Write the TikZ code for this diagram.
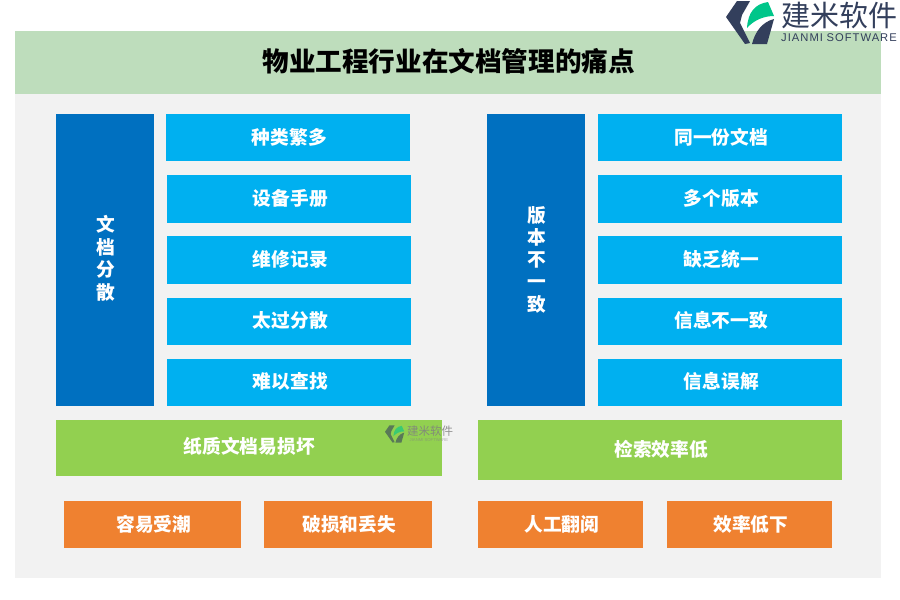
\documentclass[tikz,border=0pt]{standalone}
\usepackage{fontspec}
\setmainfont{Noto Sans CJK SC}
\newfontfamily\latinfont{Liberation Sans}
\definecolor{panel}{HTML}{F2F2F2}
\definecolor{headbar}{HTML}{BEDDBC}
\definecolor{darkblue}{HTML}{0070C0}
\definecolor{lightblue}{HTML}{00B0F0}
\definecolor{leaf}{HTML}{92D050}
\definecolor{orangefill}{HTML}{EF8130}
\definecolor{logonavy}{HTML}{333F5C}
\definecolor{logogreen}{HTML}{00C68A}
\tikzset{
  x=1pt,y=-1pt,
  boxbase/.style={anchor=center,inner sep=0pt,outer sep=0pt,text=white,xshift=1.3pt,yshift=0.4pt,font=\bfseries\fontsize{18.7}{22}\selectfont,align=center},
}
\newcommand{\pbox}[7]{% name, x0,y0,x1,y1, colour, text
  \fill[#6] (#2,#3) rectangle (#4,#5);
  \node[boxbase] (#1) at ({(#2+#4)/2},{(#3+#5)/2}) {#7};
}
\begin{document}
\begin{tikzpicture}
\useasboundingbox (0,0) rectangle (900,600);
\fill[white] (0,0) rectangle (900,600);
\fill[panel] (15,94) rectangle (881,578);
\fill[headbar] (15,31) rectangle (881,94);
\node[anchor=center,inner sep=0pt,font=\bfseries\fontsize{26.6}{30}\selectfont,text=black] (title) at (448.7,61) {物业工程行业在文档管理的痛点};
% left
\pbox{wd}{56}{116}{154}{406}{darkblue}{\begin{tabular}{@{}c@{}}文\\档\\分\\散\end{tabular}}
\fill[darkblue] (56,114) rectangle (154,117);
\pbox{a1}{166}{114}{410}{161}{lightblue}{种类繁多}
\pbox{a2}{167}{175}{411}{222}{lightblue}{设备手册}
\pbox{a3}{167}{236}{411}{283}{lightblue}{维修记录}
\pbox{a4}{167}{298}{411}{344}{lightblue}{太过分散}
\pbox{a5}{167}{359}{411}{405}{lightblue}{难以查找}
\fill[lightblue] (167,220) rectangle (411,223);
\fill[lightblue] (167,281) rectangle (411,284);
\fill[lightblue] (167,342) rectangle (411,345);
\fill[lightblue] (167,403) rectangle (411,406);
% right
\pbox{bb}{487}{119}{585}{406}{darkblue}{\begin{tabular}{@{}c@{}}版\\本\\不\\一\\致\end{tabular}}
\fill[darkblue] (487,114) rectangle (585,120);
\pbox{b1}{598}{114}{842}{161}{lightblue}{同一份文档}
\pbox{b2}{598}{175}{842}{222}{lightblue}{多个版本}
\pbox{b3}{598}{236}{842}{283}{lightblue}{缺乏统一}
\pbox{b4}{598}{298}{842}{344}{lightblue}{信息不一致}
\pbox{b5}{598}{359}{842}{405}{lightblue}{信息误解}
\fill[lightblue] (598,220) rectangle (842,223);
\fill[lightblue] (598,281) rectangle (842,284);
\fill[lightblue] (598,342) rectangle (842,345);
\fill[lightblue] (598,403) rectangle (842,406);
% green
\fill[leaf] (56,420) rectangle (442,476);
\node[boxbase] (g1) at (248,447) {纸质文档易损坏};
\pbox{g2}{478}{420}{842}{480}{leaf}{检索效率低}
% orange
\pbox{o1}{64}{501}{241}{548}{orangefill}{容易受潮}
\pbox{o2}{264}{501}{432}{548}{orangefill}{破损和丢失}
\pbox{o3}{478}{501}{643}{548}{orangefill}{人工翻阅}
\pbox{o4}{667}{501}{832}{548}{orangefill}{效率低下}
% watermark
\begin{scope}[opacity=0.6,shift={(385,425)},scale=0.4]
  \fill[logonavy] (11,1) -- (24,1) -- (16,15) -- (14,23) -- (24,43) -- (19,44) -- (0,17) -- cycle;
  \fill[logogreen] (21,28) .. controls (22,12) and (29,4) .. (42,2) -- (48,16) .. controls (38,16) and (28,20) .. (21,28) -- cycle;
  \fill[logonavy] (26,44) .. controls (29,32) and (36,22) .. (48,19) -- (41,44) -- cycle;
\end{scope}
\node[anchor=center,inner sep=0pt,text=gray,opacity=.85,font=\fontsize{11.5}{13}\selectfont] (wm1) at (430,431.5) {建米软件};
\node[anchor=center,inner sep=0pt,text=gray,opacity=.6,font=\latinfont\fontsize{4.2}{5}\selectfont] (wm2) at (429,440) {JIANMI SOFTWARE};
% logo
\fill[logonavy] (737,1) -- (750,1) -- (742,15) -- (740,23) -- (750,43) -- (745,44) -- (726,17) -- cycle;
\fill[logogreen] (747,28) .. controls (748,12) and (755,4) .. (768,2) -- (774,16) .. controls (764,16) and (754,20) .. (747,28) -- cycle;
\fill[logonavy] (752,44) .. controls (755,32) and (762,22) .. (774,19) -- (767,44) -- cycle;
\node[anchor=center,inner sep=0pt,text=logonavy,font=\fontsize{29}{32}\selectfont] (lg1) at (839.5,15) {建米软件};
\node[anchor=center,inner sep=0pt,text=logonavy,font=\latinfont\fontsize{11.2}{13}\selectfont,text width=130pt,align=center] (lg2) at (839,38) {\addfontfeature{LetterSpace=9}JIANMI SOFTWARE};
\end{tikzpicture}
\end{document}
